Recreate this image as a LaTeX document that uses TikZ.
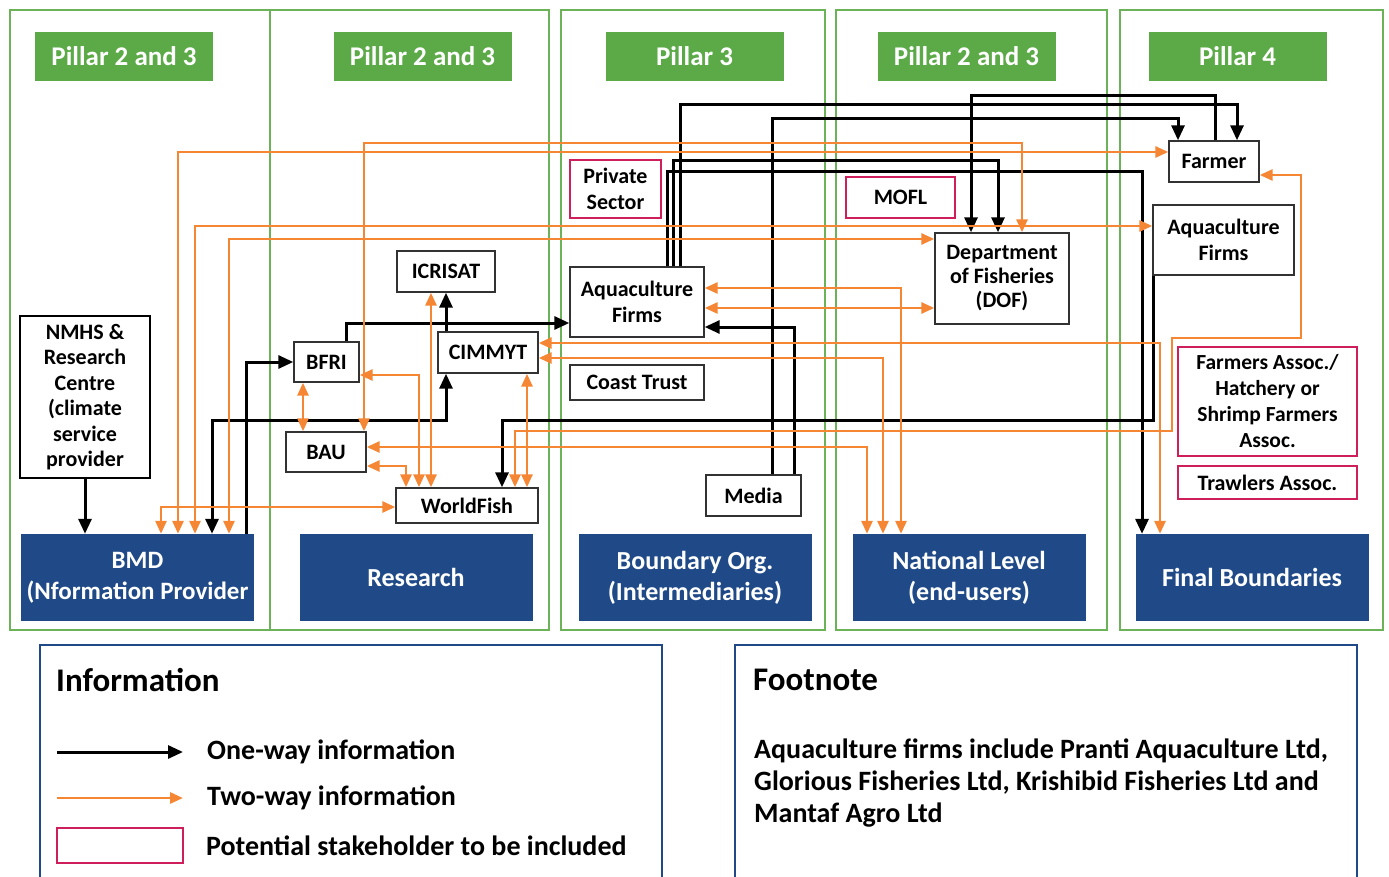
\documentclass[tikz,border=0pt]{standalone}
\usepackage{fontspec}
\setmainfont{Carlito}
\usepackage{tikz}
\usetikzlibrary{arrows.meta,positioning}
\definecolor{pillargreen}{RGB}{91,170,71}
\definecolor{boundblue}{RGB}{31,74,135}
\definecolor{linkorange}{RGB}{245,134,52}
\definecolor{potred}{RGB}{206,30,92}
\definecolor{boxgray}{RGB}{50,50,50}

\begin{document}
\begin{tikzpicture}[x=1pt, y=-1pt,
    bigtip/.tip={Triangle[length=15pt,width=13pt]},
    smalltip/.tip={Triangle[length=13pt,width=11pt]},
    frame/.style={draw=pillargreen!90!white, line width=2.4pt},
    pillar/.style={fill=pillargreen, text=white, minimum width=178pt, minimum height=49pt,
      font=\fontsize{27}{30}\selectfont\bfseries},
    bound/.style={fill=boundblue, text=white, minimum width=233pt, minimum height=87pt,
      align=center, inner sep=1pt, font=\fontsize{26}{31}\selectfont\bfseries},
    box/.style={draw=boxgray, line width=1.4pt, fill=white, align=center, inner sep=1pt,
      font=\fontsize{22}{25.5}\selectfont\bfseries},
    potential/.style={box, draw=potred},
    oneway/.style={draw=black, line width=3pt, -bigtip},
    twoway/.style={draw=linkorange, line width=2.8pt, smalltip-smalltip},
    legendbox/.style={draw=boundblue, line width=2.2pt},
    headtext/.style={font=\fontsize{33}{36}\selectfont\bfseries, inner sep=0pt},
    legendtext/.style={font=\fontsize{28}{32}\selectfont\bfseries, inner sep=0pt}
  ]
  \useasboundingbox (0,0) rectangle (1389,877);

  \foreach \l/\r in {10/270, 270/549, 561/825, 836/1107, 1120/1383}
    \draw[frame] (\l,10) rectangle (\r,630);

  \node[pillar] (p1) at (124,56.5) {Pillar 2 and 3};
  \node[pillar] (p2) at (422.5,56.5) {Pillar 2 and 3};
  \node[pillar] (p3) at (694.5,56.5) {Pillar 3};
  \node[pillar] (p4) at (966.5,56.5) {Pillar 2 and 3};
  \node[pillar] (p5) at (1237.5,56.5) {Pillar 4};

  \node[bound, font=\fontsize{25}{31}\selectfont\bfseries] (bmd) at (137.5,577.5) {BMD\\(Nformation Provider};
  \node[bound] (research) at (416,577.5) {Research};
  \node[bound] (boundary) at (695,577.5) {Boundary Org.\\(Intermediaries)};
  \node[bound] (national) at (969,577.5) {National Level\\(end-users)};
  \node[bound] (final) at (1252,577.5) {Final Boundaries};

  \node[box, draw=black, line width=2.8pt, minimum width=130pt, minimum height=162pt] (nmhs) at (85,397)
    {NMHS \&\\Research\\Centre\\(climate\\service\\provider};
  \node[box, minimum width=65pt, minimum height=40pt] (bfri) at (326.5,362) {BFRI};
  \node[box, minimum width=80pt, minimum height=40pt] (bau) at (326,452) {BAU};
  \node[box, minimum width=98pt, minimum height=41pt] (icrisat) at (446,271.5) {ICRISAT};
  \node[box, minimum width=100pt, minimum height=41pt] (cimmyt) at (488,352.5) {CIMMYT};
  \node[box, minimum width=142pt, minimum height=35pt] (worldfish) at (467,505.5) {WorldFish};
  \node[potential, minimum width=91pt, minimum height=58pt] (private) at (615.5,189) {Private\\Sector};
  \node[box, minimum width=134pt, minimum height=70pt] (aquamid) at (637,302) {Aquaculture\\Firms};
  \node[box, minimum width=134pt, minimum height=35pt] (coast) at (637,382.5) {Coast Trust};
  \node[box, minimum width=95pt, minimum height=41pt] (media) at (753.5,495.5) {Media};
  \node[potential, minimum width=109pt, minimum height=41pt] (mofl) at (900.5,197.5) {MOFL};
  \node[box, minimum width=134pt, minimum height=91pt, font=\fontsize{22}{24}\selectfont\bfseries] (dof) at (1002,278.5)
    {Department\\of Fisheries\\(DOF)};
  \node[box, minimum width=90pt, minimum height=41pt] (farmer) at (1214,161.5) {Farmer};
  \node[box, minimum width=141pt, minimum height=70pt] (aquaright) at (1223.5,240) {Aquaculture\\Firms};
  \node[potential, minimum width=179pt, minimum height=109pt, font=\fontsize{21.5}{26}\selectfont\bfseries] (fassoc) at (1267.5,401.5)
    {Farmers Assoc./\\Hatchery or\\Shrimp Farmers\\Assoc.};
  \node[potential, minimum width=179pt, minimum height=33pt] (trawlers) at (1267.5,482.5) {Trawlers Assoc.};

  \draw[oneway] (nmhs.south) -- (nmhs.south |- bmd.north);
  \draw[oneway] (bmd.north -| 246,0) |- (bfri.west);
  \draw[oneway, bigtip-bigtip] (cimmyt.south -| 446,0) |- (212,420) -- (bmd.north -| 212,0);
  \draw[oneway] (bfri.north -| 346,0) |- (aquamid.west |- 0,323);
  \draw[oneway] (cimmyt.north -| 446,0) -- (icrisat.south -| 446,0);
  \draw[oneway] (aquamid.north -| 667,0) |- (1142,172) -- (final.north -| 1142,0);
  \draw[oneway] (aquamid.north -| 673,0) |- (998,161) -- (dof.north -| 998,0);
  \draw[oneway] (aquamid.north -| 680,0) |- (1237,105) -- (farmer.north -| 1237,0);
  \draw[oneway] (farmer.north -| 1215,0) |- (971,96) -- (dof.north -| 971,0);
  \draw[oneway] (media.north -| 772,0) |- (1178,119) -- (farmer.north -| 1178,0);
  \draw[oneway] (media.north -| 794,0) |- (aquamid.east |- 0,327);
  \draw[oneway] (aquaright.south -| 1153,0) |- (502,420) -- (worldfish.north -| 502,0);

  \draw[twoway] (bmd.north -| 161,0) |- (worldfish.west |- 0,507);
  \draw[twoway] (bmd.north -| 178,0) |- (farmer.west |- 0,152);
  \draw[twoway] (bmd.north -| 195,0) |- (aquaright.west |- 0,226);
  \draw[twoway] (bmd.north -| 229,0) |- (dof.west |- 0,239);
  \draw[twoway] (bau.north -| 364,0) |- (1022,143) -- (dof.north -| 1022,0);
  \draw[twoway] (bfri.south -| 303,0) -- (bau.north -| 303,0);
  \draw[twoway] (bfri.east |- 0,375) -| (worldfish.north -| 419,0);
  \draw[twoway] (bau.east |- 0,466) -| (worldfish.north -| 406,0);
  \draw[twoway] (icrisat.south -| 431,0) -- (worldfish.north -| 431,0);
  \draw[twoway] (cimmyt.south -| 527,0) -- (worldfish.north -| 527,0);
  \draw[twoway] (farmer.east |- 0,175) -| (1301,338) -| (1172,431) -| (worldfish.north -| 515,0);
  \draw[twoway] (bau.east |- 0,447) -| (national.north -| 867,0);
  \draw[twoway] (cimmyt.east |- 0,343) -| (final.north -| 1160,0);
  \draw[twoway] (cimmyt.east |- 0,358) -| (national.north -| 883,0);
  \draw[twoway] (aquamid.east |- 0,288) -| (national.north -| 901,0);
  \draw[twoway] (aquamid.east |- 0,308) -- (dof.west |- 0,308);

  \draw[legendbox] (40,880) -- (40,645) -- (662,645) -- (662,880);
  \draw[legendbox] (735,880) -- (735,645) -- (1357,645) -- (1357,880);

  \node[headtext, anchor=west] (infohead) at (56,680) {Information};
  \coordinate (onea) at (57,752);
  \coordinate (oneb) at (183,752);
  \draw[oneway] (onea) -- (oneb);
  \node[legendtext, anchor=west] (onetext) at (207,752) {One-way information};
  \coordinate (twoa) at (57,798);
  \coordinate (twob) at (183,798);
  \draw[draw=linkorange, line width=2.8pt, -smalltip] (twoa) -- (twob);
  \node[legendtext, anchor=west] (twotext) at (207,798) {Two-way information};
  \node[draw=potred, line width=2.2pt, minimum width=126pt, minimum height=35pt] (potkey) at (120,845.5) {};
  \node[legendtext, anchor=west] (pottext) at (206,846) {Potential stakeholder to be included};

  \node[headtext, anchor=west] (foothead) at (753,680) {Footnote};
  \node[legendtext, anchor=north west, align=left] (foottext) at (754,739)
    {Aquaculture firms include Pranti Aquaculture Ltd,\\Glorious Fisheries Ltd, Krishibid Fisheries Ltd and\\Mantaf Agro Ltd};
\end{tikzpicture}
\end{document}
